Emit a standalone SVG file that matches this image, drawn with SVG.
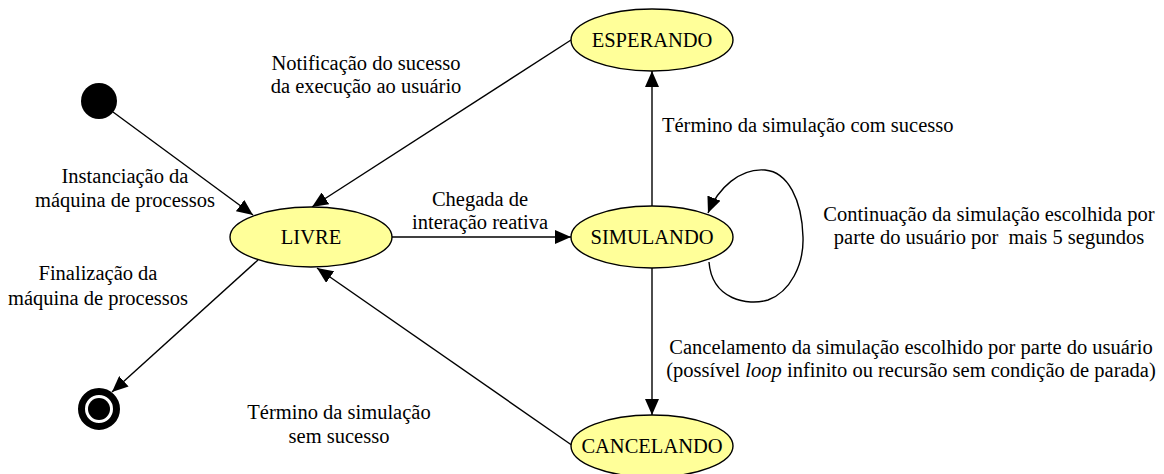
<svg xmlns="http://www.w3.org/2000/svg" width="1164" height="474" viewBox="0 0 1164 474">
<style>
text{font-family:"Liberation Serif","Times New Roman",serif;font-size:20.5px;fill:#000}
.c{text-anchor:middle}
.st{fill:#FFFF99;stroke:#000;stroke-width:1.4}
.e{fill:none;stroke:#000;stroke-width:1.4}
</style>
<defs>
<marker id="ah" markerUnits="userSpaceOnUse" markerWidth="18" markerHeight="14" refX="16" refY="7" orient="auto">
<path d="M0,0 L16,7 L0,14 Z" fill="#000"/>
</marker>
</defs>
<rect width="1164" height="474" fill="#fff"/>
<g id="connectors">
<line class="e" x1="113" y1="112" x2="253" y2="215" marker-end="url(#ah)"/>
<line class="e" x1="571" y1="40" x2="312" y2="207" marker-end="url(#ah)"/>
<line class="e" x1="392" y1="237" x2="571" y2="237" marker-end="url(#ah)"/>
<line class="e" x1="652" y1="206" x2="652" y2="71" marker-end="url(#ah)"/>
<line class="e" x1="652" y1="268" x2="652" y2="415" marker-end="url(#ah)"/>
<line class="e" x1="573" y1="446" x2="317" y2="268" marker-end="url(#ah)"/>
<line class="e" x1="258" y1="260" x2="112" y2="392" marker-end="url(#ah)"/>
<path class="e" d="M709,262 C712,300 748,306 768,300 C790,292 804,265 803,237 C802,200 788,172 765,170 C740,168 718,188 708,213" marker-end="url(#ah)"/>
</g>
<g id="labels">
<text class="c" x="366" y="70">Notificação do sucesso</text>
<text class="c" x="366" y="93">da execução ao usuário</text>
<text class="c" x="125" y="183">Instanciação da</text>
<text class="c" x="125" y="207">máquina de processos</text>
<text class="c" x="98" y="280">Finalização da</text>
<text class="c" x="98" y="305">máquina de processos</text>
<text class="c" x="480" y="206">Chegada de</text>
<text class="c" x="480" y="229">interação reativa</text>
<text x="662" y="132">Término da simulação com sucesso</text>
<text class="c" x="989" y="221">Continuação da simulação escolhida por</text>
<text class="c" x="989" y="244" xml:space="preserve">parte do usuário por  mais 5 segundos</text>
<text class="c" x="911" y="354">Cancelamento da simulação escolhido por parte do usuário</text>
<text class="c" x="911" y="377">(possível <tspan font-style="italic">loop</tspan> infinito ou recursão sem condição de parada)</text>
<text class="c" x="339" y="419">Término da simulação</text>
<text class="c" x="339" y="443">sem sucesso</text>
</g>
<g id="initial"><circle cx="99" cy="101" r="18" fill="#000"/></g>
<g id="final"><circle cx="99" cy="409" r="17.5" fill="none" stroke="#000" stroke-width="7"/><circle cx="99" cy="409" r="11" fill="#000"/></g>
<g id="livre"><ellipse class="st" cx="311" cy="237" rx="81" ry="30"/><text class="c" x="311" y="244">LIVRE</text></g>
<g id="esperando"><ellipse class="st" cx="652" cy="40" rx="81" ry="31"/><text class="c" x="652" y="47">ESPERANDO</text></g>
<g id="simulando"><ellipse class="st" cx="652" cy="237" rx="81" ry="31"/><text class="c" x="652" y="244">SIMULANDO</text></g>
<g id="cancelando"><ellipse class="st" cx="652" cy="446" rx="81" ry="31"/><text class="c" x="652" y="453">CANCELANDO</text></g>
</svg>
